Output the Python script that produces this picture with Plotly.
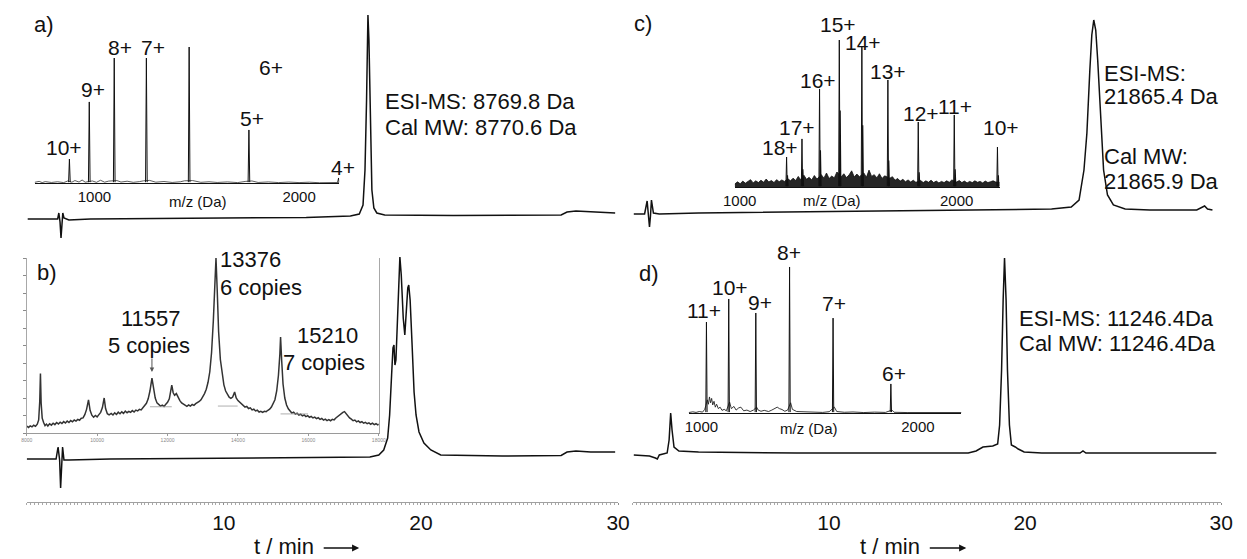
import plotly.graph_objects as go

W, H = 1247, 559

# ---------------- data ----------------
# HPLC traces: (t / min, detector signal, arbitrary units)
chrom_a = [(0.05, 0), (1.44, 0), (1.57, 0), (1.63, 6), (1.69, -3), (1.74, -19), (1.79, -3), (1.83, 6),
           (1.89, 1), (2.14, -1), (3.23, 0), (9.2, 1), (14.18, 1.5), (16.42, 3), (16.87, 5), (17.06, 14),
           (17.16, 49), (17.24, 119), (17.29, 179), (17.31, 204), (17.36, 179), (17.44, 99), (17.51, 29),
           (17.61, 11), (17.76, 6), (18.16, 4), (21.64, 3.5), (27.11, 4), (27.41, 7), (27.86, 8),
           (28.61, 7), (29.85, 6)]
chrom_b = [(0.0, 0), (1.49, 0), (1.59, 12), (1.67, -1), (1.72, -29), (1.77, -1), (1.82, 12), (1.89, -1),
           (2.14, -1), (4.23, 0), (11.69, 1), (17.41, 2), (17.86, 4), (18.11, 9), (18.31, 21), (18.41, 44),
           (18.51, 84), (18.58, 111), (18.63, 114), (18.68, 94), (18.73, 99), (18.81, 139), (18.88, 184),
           (18.93, 202), (19.0, 184), (19.1, 141), (19.18, 124), (19.25, 149), (19.33, 171), (19.38, 174),
           (19.45, 159), (19.55, 114), (19.65, 67), (19.75, 44), (19.9, 27), (20.15, 16), (20.5, 9),
           (21.0, 4), (24.13, 3), (27.11, 3.5), (27.41, 7), (27.86, 8), (28.61, 7), (29.85, 7)]
chrom_c = [(0.05, -1), (0.6, -1), (0.73, 12), (0.8, -3), (0.85, -14), (0.9, -3), (0.95, 13), (1.05, 0),
           (1.35, -1), (3.35, 0), (8.35, 1), (13.35, 2), (18.35, 3), (21.35, 4), (22.35, 6), (22.75, 13),
           (23.0, 43), (23.15, 80), (23.3, 143), (23.4, 178), (23.5, 193), (23.6, 183), (23.7, 153),
           (23.85, 93), (24.0, 43), (24.2, 18), (24.5, 8), (25.1, 4), (26.35, 3), (28.75, 3), (29.0, 6),
           (29.15, 7), (29.3, 4), (29.55, 3)]
chrom_d = [(0.05, 0), (0.85, -1), (1.15, -3), (1.25, -4), (1.35, 0), (1.75, 2), (1.85, 15), (1.93, 42),
           (2.0, 25), (2.1, 8), (2.35, 4), (3.35, 3), (8.35, 2), (13.35, 2), (17.1, 2), (17.5, 4),
           (17.85, 8), (18.35, 9), (18.6, 11), (18.7, 30), (18.8, 85), (18.88, 155), (18.95, 197),
           (19.03, 155), (19.1, 85), (19.2, 30), (19.3, 10), (19.5, 8), (19.65, 6), (19.95, 3),
           (20.85, 2), (22.8, 2), (22.95, 4), (23.1, 2), (29.75, 2)]

# ESI-MS inset a
ms_a_mz = [878, 975, 1097, 1254, 1463, 1755, 2193]
ms_a_int = [17.6, 59.6, 91.9, 91.9, 100, 39, 3.7]
ms_a_charge = ["10+", "9+", "8+", "7+", "", "5+", "4+"]
ms_a_noise = [(708, 0.5), (730, 1.2), (745, 0.3), (760, 1.0), (790, 0.4), (820, 0.9), (850, 0.3),
              (870, 1.5), (890, 0.6), (905, 1.8), (925, 0.7), (940, 2.2), (955, 0.6), (990, 1.5),
              (1010, 0.5), (1030, 2.0), (1050, 0.6), (1070, 1.4), (1110, 1.8), (1130, 0.7), (1160, 1.3),
              (1190, 0.5), (1220, 1.0), (1240, 1.6), (1270, 1.9), (1300, 0.6), (1340, 1.1), (1380, 0.4),
              (1420, 0.9), (1440, 1.6), (1480, 1.8), (1520, 0.5), (1560, 0.9), (1600, 0.4), (1650, 0.8),
              (1700, 0.3), (1740, 1.2), (1770, 1.5), (1800, 0.4), (1850, 0.8), (1900, 0.3), (1950, 0.7),
              (2000, 0.3), (2050, 0.6), (2100, 0.2), (2150, 0.5), (2180, 0.3), (2195, 0.4)]
ms_a_extra_label = "6+"
ms_a_info = ["ESI-MS: 8769.8 Da", "Cal MW: 8770.6 Da"]

# deconvoluted MS inset b (mass / Da, relative intensity %)
ms_b = [(8000, 4.0), (8050, 3.2), (8100, 4.1), (8150, 3.5), (8200, 4.4), (8250, 3.8), (8300, 5.0),
        (8340, 7.5), (8370, 18), (8390, 34), (8410, 17), (8440, 8.5), (8480, 6.0), (8520, 4.2),
        (8560, 5.1), (8600, 4.0), (8650, 5.3), (8700, 4.5), (8750, 5.6), (8800, 4.8), (8850, 6.0),
        (8900, 5.1), (8950, 6.2), (9000, 5.4), (9050, 6.5), (9100, 5.7), (9150, 6.8), (9200, 6.0),
        (9250, 7.1), (9300, 6.4), (9350, 7.4), (9400, 6.8), (9450, 7.8), (9500, 7.3), (9550, 8.4),
        (9600, 8.6), (9650, 10.5), (9700, 13.5), (9755, 18.9), (9800, 13.0), (9850, 10.2), (9900, 9.0),
        (9950, 10.0), (10000, 9.2), (10050, 10.5), (10100, 11.8), (10150, 14.5), (10200, 20.0),
        (10240, 14.0), (10290, 11.0), (10340, 10.4), (10400, 11.2), (10450, 10.3), (10500, 11.5),
        (10550, 10.6), (10600, 11.9), (10650, 11.0), (10700, 12.1), (10750, 11.2), (10800, 12.5),
        (10850, 11.6), (10900, 12.4), (10950, 11.8), (11000, 12.8), (11050, 12.0), (11100, 13.1),
        (11150, 12.6), (11200, 13.5), (11250, 13.2), (11300, 14.5), (11350, 15.4), (11400, 17.0),
        (11450, 19.5), (11500, 24.0), (11557, 31.4), (11600, 25.0), (11650, 20.0), (11700, 17.2),
        (11750, 16.0), (11800, 15.4), (11850, 15.9), (11900, 15.2), (11950, 16.4), (12000, 17.5),
        (12050, 19.5), (12100, 24.0), (12120, 27.4), (12160, 23.0), (12200, 21.5), (12250, 22.5),
        (12300, 20.0), (12350, 18.5), (12400, 17.2), (12450, 16.5), (12500, 16.0), (12550, 15.2),
        (12600, 16.0), (12650, 15.4), (12700, 16.3), (12750, 15.8), (12800, 16.8), (12850, 17.2),
        (12900, 18.0), (12950, 19.0), (13000, 20.5), (13050, 22.5), (13100, 25.0), (13150, 29.0),
        (13200, 35.0), (13250, 46.0), (13300, 64.0), (13340, 85.0), (13376, 100.0), (13410, 82.0),
        (13450, 58.0), (13500, 42.0), (13550, 33.0), (13600, 27.5), (13650, 24.0), (13700, 22.0),
        (13750, 20.5), (13800, 19.8), (13850, 20.5), (13905, 23.4), (13950, 20.0), (14000, 18.5),
        (14050, 17.6), (14100, 16.4), (14150, 15.9), (14200, 14.8), (14250, 15.2), (14300, 14.0),
        (14350, 14.4), (14400, 13.2), (14450, 13.6), (14500, 12.6), (14550, 13.0), (14600, 12.0),
        (14650, 12.4), (14700, 11.8), (14750, 12.4), (14800, 12.2), (14850, 13.0), (14900, 13.6),
        (14950, 14.8), (15000, 16.5), (15050, 19.0), (15100, 24.0), (15150, 33.0), (15190, 45.0),
        (15210, 54.9), (15240, 42.0), (15280, 28.0), (15330, 20.0), (15380, 16.0), (15430, 13.8),
        (15480, 12.6), (15530, 11.4), (15580, 11.9), (15630, 10.8), (15680, 11.3), (15730, 10.2),
        (15780, 10.7), (15830, 9.8), (15880, 10.3), (15930, 9.4), (15980, 9.9), (16030, 9.0),
        (16080, 9.5), (16130, 8.6), (16180, 9.1), (16230, 8.2), (16280, 8.7), (16330, 7.8),
        (16380, 8.3), (16430, 7.4), (16480, 7.9), (16530, 7.1), (16580, 7.6), (16630, 7.0),
        (16680, 7.8), (16730, 7.5), (16780, 8.6), (16830, 9.4), (16880, 10.5), (16930, 11.2),
        (16980, 11.8), (17025, 12.2), (17070, 11.0), (17120, 10.2), (17170, 8.6), (17220, 7.9),
        (17270, 7.0), (17320, 7.4), (17370, 6.4), (17420, 6.9), (17470, 6.0), (17520, 6.5),
        (17570, 5.6), (17620, 6.1), (17670, 5.3), (17720, 5.8), (17770, 5.0), (17820, 5.6),
        (17870, 4.8), (17920, 5.3), (17970, 4.6), (18000, 5.0)]
ms_b_baselines = [((11500, 12120), 15.0), ((13430, 13990), 15.4), ((15210, 15990), 10.9)]
ms_b_peak_mass = [11557, 13376, 15210]
ms_b_peak_label = [("11557", "5 copies"), ("13376", "6 copies"), ("15210", "7 copies")]
ms_b_arrow_tip = 34.9
mass_ticks_b = [8000, 10000, 12000, 14000, 16000, 18000]

# ESI-MS inset c
ms_c_mz = [1216, 1287, 1368, 1459, 1563, 1683, 1823, 1989, 2188]
ms_c_int = [20.4, 32.7, 66.7, 100, 95.2, 72.8, 44.2, 49.0, 27.2]
ms_c_adduct = [8, 12, 25, 52, 42, 18, 10, 12, 8]
ms_c_charge = ["18+", "17+", "16+", "15+", "14+", "13+", "12+", "11+", "10+"]
ms_c_noise = [(977, 2.0), (990, 3.5), (1002, 2.2), (1014, 4.0), (1026, 2.6), (1038, 3.8), (1050, 5.0),
              (1062, 2.8), (1074, 4.2), (1086, 3.0), (1098, 4.6), (1110, 3.2), (1122, 5.4), (1134, 3.4),
              (1146, 4.4), (1158, 3.0), (1170, 5.0), (1182, 3.6), (1194, 4.8), (1206, 3.8), (1222, 5.6),
              (1234, 4.2), (1246, 6.0), (1258, 4.4), (1270, 7.2), (1280, 5.0), (1296, 8.0), (1308, 5.2),
              (1320, 6.6), (1332, 4.8), (1344, 7.8), (1356, 5.4), (1376, 8.4), (1388, 6.0), (1400, 9.5),
              (1412, 5.8), (1424, 7.4), (1436, 6.2), (1448, 10.2), (1468, 7.0), (1480, 9.0), (1492, 6.4),
              (1504, 8.2), (1516, 11.0), (1528, 6.8), (1540, 8.8), (1552, 7.0), (1572, 9.6), (1584, 6.6),
              (1596, 11.5), (1608, 7.2), (1620, 8.4), (1632, 6.2), (1644, 9.0), (1656, 5.8), (1668, 7.6),
              (1692, 6.0), (1704, 7.0), (1716, 4.6), (1728, 5.8), (1740, 4.0), (1752, 5.2), (1764, 3.6),
              (1776, 4.8), (1788, 3.4), (1800, 4.6), (1812, 3.2), (1834, 4.4), (1846, 3.0), (1858, 4.2),
              (1870, 3.2), (1882, 4.6), (1894, 3.0), (1906, 4.0), (1918, 2.8), (1930, 3.8), (1942, 3.0),
              (1954, 4.2), (1966, 3.2), (1978, 4.8), (2000, 3.4), (2012, 4.4), (2024, 3.0), (2036, 4.0),
              (2048, 2.8), (2060, 3.8), (2072, 3.0), (2084, 4.2), (2096, 3.2), (2108, 3.8), (2120, 2.8),
              (2132, 4.0), (2144, 3.0), (2156, 3.6), (2168, 4.2), (2180, 3.4), (2198, 3.0)]
ms_c_info = ["ESI-MS:", "21865.4 Da", "Cal MW:", "21865.9 Da"]

# ESI-MS inset d
ms_d_mz = [1023, 1126, 1251, 1407, 1608, 1875]
ms_d_int = [62.3, 78.1, 68.5, 100, 65, 19.9]
ms_d_charge = ["11+", "10+", "9+", "8+", "7+", "6+"]
ms_d_noise = [(941, 0.3), (960, 0.8), (975, 0.4), (990, 1.0), (1005, 0.6), (1015, 2.5), (1020, 5.0),
              (1027, 9.0), (1032, 6.0), (1037, 11.0), (1042, 7.0), (1047, 10.0), (1052, 5.5), (1058, 8.0),
              (1064, 4.0), (1070, 6.0), (1078, 3.0), (1086, 4.0), (1095, 1.8), (1105, 2.5), (1115, 1.5),
              (1130, 7.5), (1138, 3.0), (1150, 4.5), (1160, 2.0), (1172, 3.5), (1182, 4.0), (1195, 1.5),
              (1210, 2.0), (1225, 1.0), (1240, 2.0), (1255, 4.0), (1262, 2.0), (1275, 1.2), (1290, 1.8),
              (1310, 1.0), (1325, 2.0), (1340, 3.0), (1350, 4.0), (1360, 3.0), (1372, 2.4), (1385, 1.2),
              (1398, 2.0), (1412, 7.0), (1420, 2.5), (1440, 1.0), (1470, 0.8), (1500, 0.5), (1530, 0.8),
              (1560, 0.4), (1590, 0.9), (1614, 4.0), (1625, 1.0), (1660, 0.5), (1700, 0.7), (1750, 0.3),
              (1800, 0.6), (1850, 0.4), (1880, 2.0), (1890, 0.5), (1950, 0.3), (2000, 0.4), (2100, 0.3),
              (2201, 0.3)]
ms_d_info = ["ESI-MS: 11246.4Da", "Cal MW: 11246.4Da"]

panel_letters = ["a)", "b)", "c)", "d)"]
time_ticks = [10, 20, 30]
mz_ticks = [1000, 2000]
mz_title = "m/z (Da)"
time_title = "t / min"

# ---------------- layout helpers (pixel geometry of the page) ----------------
FONT = "Liberation Sans, Arial, sans-serif"
INK = "#111111"


def unzip(pairs):
    return [p[0] for p in pairs], [p[1] for p in pairs]


def clamp(v):
    return min(1.0, max(0.0, v))


def hdom(p0, v0, p1, v1, lo, hi):
    s = (p1 - p0) / (v1 - v0)
    return [clamp((p0 + (lo - v0) * s) / W), clamp((p0 + (hi - v0) * s) / W)]


def vdom(p0, v0, p1, v1, lo, hi):
    s = (p1 - p0) / (v1 - v0)
    return [clamp(1 - (p0 + (lo - v0) * s) / H), clamp(1 - (p0 + (hi - v0) * s) / H)]


def sticks(mz, h, half=4.0, base=0.6, shift=0.0):
    xs, ys = [], []
    for m, v in zip(mz, h):
        xs += [m + shift - half, m + shift, m + shift + half, None]
        ys += [base, v, base, None]
    return xs, ys


fig = go.Figure()

# chromatograms
for pairs, xa, ya in [(chrom_a, "x", "y"), (chrom_b, "x", "y2"), (chrom_c, "x2", "y3"), (chrom_d, "x2", "y4")]:
    t, v = unzip(pairs)
    fig.add_trace(go.Scatter(x=t, y=v, xaxis=xa, yaxis=ya, mode="lines",
                             line=dict(color=INK, width=1.5)))

# MS a
nx, ny = unzip(ms_a_noise)
fig.add_trace(go.Scatter(x=nx, y=ny, xaxis="x3", yaxis="y5", mode="lines", line=dict(color="#333", width=0.8)))
sx, sy = sticks(ms_a_mz, ms_a_int)
fig.add_trace(go.Scatter(x=sx, y=sy, xaxis="x3", yaxis="y5", mode="lines", line=dict(color=INK, width=1)))

# MS b
bx, by = unzip(ms_b)
fig.add_trace(go.Scatter(x=bx, y=by, xaxis="x4", yaxis="y6", mode="lines", line=dict(color="#333", width=1.5)))
lx, ly = [], []
for (m0, m1), lev in ms_b_baselines:
    lx += [m0, m1, None]
    ly += [lev, lev, None]
fig.add_trace(go.Scatter(x=lx, y=ly, xaxis="x4", yaxis="y6", mode="lines", line=dict(color="#999", width=0.8)))

# MS c
cx, cy = unzip(ms_c_noise)
fig.add_trace(go.Scatter(x=cx, y=cy, xaxis="x5", yaxis="y7", mode="lines", fill="tozeroy",
                         fillcolor="#262626", line=dict(color=INK, width=0.8)))
sx, sy = sticks(ms_c_mz, ms_c_adduct, half=3, shift=4)
fig.add_trace(go.Scatter(x=sx, y=sy, xaxis="x5", yaxis="y7", mode="lines", line=dict(color=INK, width=1.2)))
sx, sy = sticks(ms_c_mz, ms_c_int, half=3)
fig.add_trace(go.Scatter(x=sx, y=sy, xaxis="x5", yaxis="y7", mode="lines", line=dict(color=INK, width=1)))

# MS d
dx, dy = unzip(ms_d_noise)
fig.add_trace(go.Scatter(x=dx, y=dy, xaxis="x6", yaxis="y8", mode="lines", line=dict(color="#222", width=0.9)))
sx, sy = sticks(ms_d_mz, ms_d_int, half=3)
fig.add_trace(go.Scatter(x=sx, y=sy, xaxis="x6", yaxis="y8", mode="lines", line=dict(color=INK, width=1)))

hidden_y = dict(visible=False, showgrid=False, zeroline=False, fixedrange=True)


def time_axis(dom):
    return dict(domain=dom, range=[0, 30], anchor="free", position=1 - 502 / H,
                tickmode="array", tickvals=time_ticks, ticktext=[str(v) for v in time_ticks],
                showline=True, linecolor="#a0a0a0", linewidth=1,
                ticks="outside", ticklen=2, tickcolor="#8c8c8c", tickwidth=1,
                minor=dict(tickmode="linear", tick0=0, dtick=0.2, ticks="outside", ticklen=2,
                           tickcolor="#a8a8a8", tickwidth=1, showgrid=False),
                showgrid=False, zeroline=False,
                tickfont=dict(size=21, family=FONT, color=INK))


def mz_axis(dom, rng, anchor):
    return dict(domain=dom, range=rng, anchor=anchor, showline=True, linecolor=INK, linewidth=1,
                ticks="", tickmode="array", tickvals=mz_ticks, ticktext=[str(v) for v in mz_ticks],
                showgrid=False, zeroline=False, tickfont=dict(size=15, family=FONT, color=INK))


layout = dict(
    width=W, height=H, margin=dict(l=0, r=0, t=0, b=0), showlegend=False, hovermode=False,
    paper_bgcolor="white", plot_bgcolor="rgba(0,0,0,0)",
    xaxis=time_axis(hdom(216, 10, 417, 20, 0, 30)),
    xaxis2=time_axis(hdom(833, 10, 1033, 20, 0, 30)),
    yaxis=dict(hidden_y, anchor="x", domain=vdom(219, 0, 119, 100, -21, 219), range=[-21, 219]),
    yaxis2=dict(hidden_y, anchor="x", domain=vdom(459, 0, 359, 100, -41, 209), range=[-41, 209]),
    yaxis3=dict(hidden_y, anchor="x2", domain=vdom(213, 0, 113, 100, -27, 213), range=[-27, 213]),
    yaxis4=dict(hidden_y, anchor="x2", domain=vdom(455, 0, 355, 100, -45, 205), range=[-45, 205]),
    # MS a
    xaxis3=mz_axis(hdom(84, 1000, 292.7, 2000, 708, 2196), [708, 2196], "y5"),
    yaxis5=dict(hidden_y, anchor="x3", domain=vdom(183, 0, 47, 100, 0, 103), range=[0, 103]),
    # MS b
    xaxis4=dict(domain=hdom(15, 8000, 374, 18000, 8000, 18000), range=[8000, 18000], anchor="y6",
                showline=True, linecolor="#9a9a9a", linewidth=1, ticks="outside", ticklen=2,
                tickcolor="#9a9a9a", tickmode="array", tickvals=mass_ticks_b,
                ticktext=[str(v) for v in mass_ticks_b], showgrid=False, zeroline=False,
                tickfont=dict(size=5, family=FONT, color="#8a8a8a")),
    yaxis6=dict(domain=vdom(433, 0, 258, 100, 0, 100), range=[0, 100], anchor="x4",
                showline=True, mirror=True, linecolor="#a8a8a8", linewidth=1, ticks="outside",
                ticklen=3, tickcolor="#8a8a8a", dtick=10, showticklabels=False,
                showgrid=False, zeroline=False),
    # MS c
    xaxis5=mz_axis(hdom(742, 1000, 963.2, 2000, 977, 2198), [977, 2198], "y7"),
    yaxis7=dict(hidden_y, anchor="x5", domain=vdom(187, 0, 40, 100, 0, 103), range=[0, 103]),
    # MS d
    xaxis6=mz_axis(hdom(703, 1000, 923.7, 2000, 941, 2201), [941, 2201], "y8"),
    yaxis8=dict(hidden_y, anchor="x6", domain=vdom(413, 0, 267, 100, 0, 103), range=[0, 103]),
)

ann = []


def txt(s, px, py, size=22, xanchor="center"):
    ann.append(dict(text=s, x=px / W, y=1 - py / H, xref="paper", yref="paper", showarrow=False,
                    xanchor=xanchor, yanchor="middle", borderpad=0,
                    font=dict(size=size, family=FONT, color=INK)))


def arrow(px_tail, px_tip, py):
    ann.append(dict(text="", x=px_tip / W, y=1 - py / H, xref="paper", yref="paper", showarrow=True,
                    ax=px_tail - px_tip, ay=0, arrowhead=2, arrowsize=1.1, arrowwidth=1.3,
                    arrowcolor=INK))


# panel letters
for s, (px, py) in zip(panel_letters, [(33, 25), (36, 272), (643, 24), (650, 273)]):
    txt(s, px, py)

# charge-state labels
a_pos = [(53, 147), (83, 90), (110, 47), (144, 47), None, (245, 118), (337, 168)]
for s, p in zip(ms_a_charge, a_pos):
    if p and s:
        txt(s, p[0], p[1], 21)
txt(ms_a_extra_label, 264, 67, 21)
c_pos = [(783, 147), (800, 128), (822, 80), (842, 25), (868, 43), (893, 72), (927, 113), (962, 106), (1008, 128)]
for s, p in zip(ms_c_charge, c_pos):
    txt(s, p[0], p[1], 21)
d_pos = [(706, 310), (732, 287), (763, 302), (792, 253), (838, 303), (899, 373)]
for s, p in zip(ms_d_charge, d_pos):
    txt(s, p[0], p[1], 21)

# m/z titles
for px, py in [(190, 201), (836, 200), (813, 428)]:
    txt(mz_title, px, py, 15)

# mass info
txt(ms_a_info[0], 379, 102, 22, "left")
txt(ms_a_info[1], 379, 127, 22, "left")
for s, py in zip(ms_c_info, [74, 96, 156, 181]):
    txt(s, 1112, py, 22, "left")
txt(ms_d_info[0], 1026, 318, 22, "left")
txt(ms_d_info[1], 1026, 343, 22, "left")

# deconvoluted-mass labels in b
txt(ms_b_peak_label[0][0], 142, 318)
txt(ms_b_peak_label[0][1], 140, 345)
txt(ms_b_peak_label[1][0], 211, 260, 22, "left")
txt(ms_b_peak_label[1][1], 211, 287, 22, "left")
txt(ms_b_peak_label[2][0], 322, 335)
txt(ms_b_peak_label[2][1], 318, 362)
ann.append(dict(x=ms_b_peak_mass[0], y=ms_b_arrow_tip, xref="x4", yref="y6", ax=0, ay=-15,
                showarrow=True, arrowhead=2, arrowsize=0.9, arrowwidth=1, arrowcolor="#555", text=""))

# time axis titles with long arrows
txt(time_title, 246, 546, 22, "left")
arrow(317, 354, 548)
txt(time_title, 864, 546, 22, "left")
arrow(935, 973, 548)

layout["annotations"] = ann
fig.update_layout(**layout)
fig.write_html("out.html", config={"displayModeBar": False, "staticPlot": True},
               post_script="document.body.style.margin='0';document.body.style.padding='0';"
                           "document.body.style.overflow='hidden';")
